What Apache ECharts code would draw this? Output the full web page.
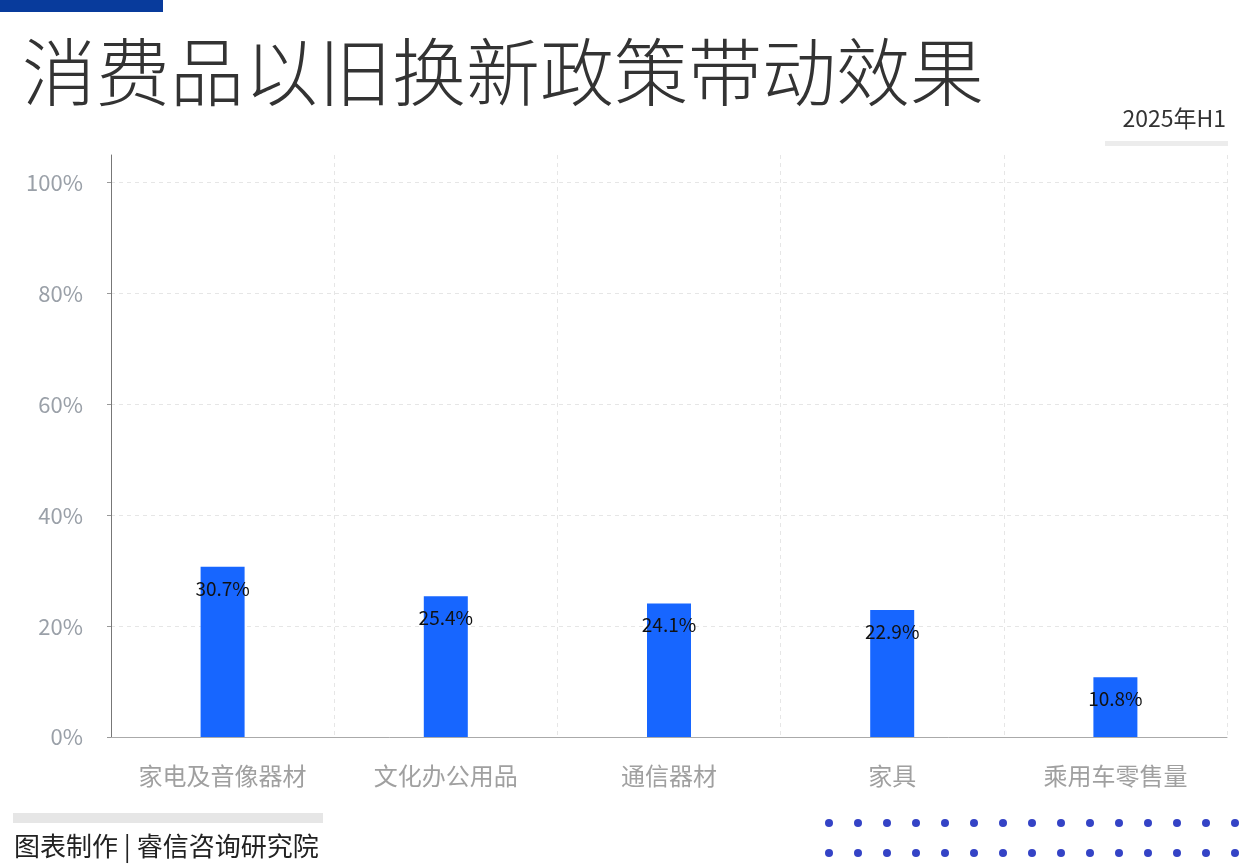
<!DOCTYPE html>
<html><head><meta charset="utf-8">
<script src="https://cdn.jsdelivr.net/npm/echarts@6/dist/echarts.min.js"></script>
<style>html,body{margin:0;padding:0;background:#fff}#c{width:1250px;height:865px}</style>
</head><body><div id="c"></div>
<script>
const categories = ['家电及音像器材','文化办公用品','通信器材','家具','乘用车零售量'];
const values = [30.7, 25.4, 24.1, 22.9, 10.8];
const yTicks = [0, 20, 40, 60, 80, 100];
const titleText = '消费品以旧换新政策带动效果';
const periodText = '2025年H1';
const sourceText = '图表制作 | 睿信咨询研究院';

const font = '"Noto Sans CJK SC","Noto Sans",sans-serif';
const dots = [];
for (let r = 0; r < 2; r++) for (let i = 0; i < 15; i++) {
  dots.push({type:'circle', shape:{cx:829 + i*29, cy:823 + r*30, r:4}, style:{fill:'#3443c6'}});
}
const chart = echarts.init(document.getElementById('c'));
chart.setOption({
  backgroundColor:'#fff',
  animation:false,
  title:{text:titleText, left:17, top:30, textStyle:{fontFamily:font, fontSize:74, fontWeight:300, color:'#333'}},
  graphic:[
    {type:'rect', shape:{x:0,y:0,width:163,height:12}, style:{fill:'#083b9c'}},
    {type:'text', right:24, top:107, style:{text:periodText, font:'23px "Noto Sans CJK SC"', fill:'#333'}},
    {type:'rect', shape:{x:1105,y:141,width:123,height:5}, style:{fill:'#ececec'}},
    {type:'rect', shape:{x:13,y:813,width:310,height:10}, style:{fill:'#e6e6e6'}},
    {type:'text', left:14, top:833, style:{text:sourceText, font:'26px "Noto Sans CJK SC"', fill:'#222'}}
  ].concat(dots),
  grid:{left:111, right:23, top:155, bottom:128},
  xAxis:{type:'category', data:categories,
    axisLine:{lineStyle:{color:'#aaa'}},
    axisTick:{alignWithLabel:true, length:4, lineStyle:{color:'#aaa'}},
    axisLabel:{fontFamily:font, fontSize:24, color:'#a0a0a0', margin:27},
    splitLine:{show:true, lineStyle:{type:[4,4], color:'#e6e6e6'}}
  },
  yAxis:{type:'value', min:0, max:105, interval:20,
    axisLine:{show:true, lineStyle:{color:'#777'}},
    axisTick:{show:true, length:4, lineStyle:{color:'#999'}},
    axisLabel:{fontFamily:font, fontSize:22, color:'#9aa0a8', margin:28, showMaxLabel:false,
      formatter:v => yTicks.includes(v) ? v + '%' : ''},
    splitLine:{lineStyle:{type:[4,4], color:['#e6e6e6','#e6e6e6','#e6e6e6','#e6e6e6','#e6e6e6','#e6e6e6','rgba(0,0,0,0)']}}
  },
  series:[{type:'bar', data:values, barWidth:44, itemStyle:{color:'#1766ff'},
    label:{show:true, position:'insideTop', distance:12, fontFamily:font, fontSize:19, color:'#111', formatter:p => p.value.toFixed(1) + '%'}
  }]
});
</script></body></html>
